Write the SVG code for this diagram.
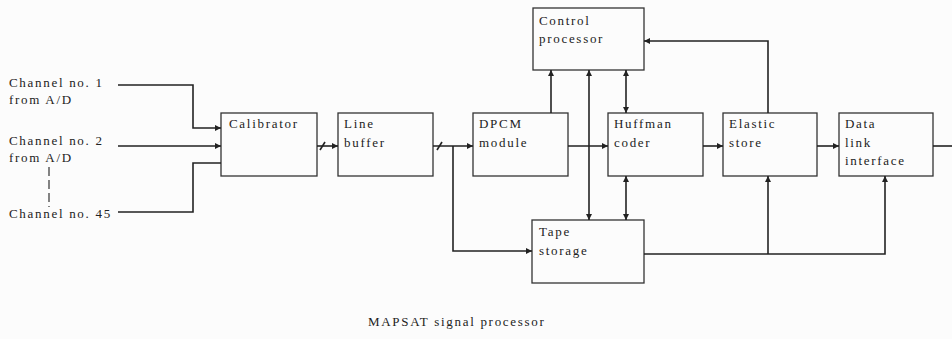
<svg xmlns="http://www.w3.org/2000/svg" width="952" height="339" viewBox="0 0 952 339">
<defs>
<marker id="ah" viewBox="0 0 10 10" refX="10" refY="5" markerWidth="7" markerHeight="6" markerUnits="userSpaceOnUse" orient="auto-start-reverse">
<path d="M0,0 L10,5 L0,10 z" fill="#222"/>
</marker>
<style>
.box{fill:none;stroke:#333;stroke-width:1.3}
.t{font-family:"Liberation Serif","DejaVu Serif",serif;font-size:13px;letter-spacing:1.7px;fill:#222}
.c{fill:none;stroke:#222;stroke-width:1.6}
.a{marker-end:url(#ah)}
.b{marker-start:url(#ah);marker-end:url(#ah)}
</style>
</defs>
<rect width="952" height="339" fill="#fcfcfc"/>
<g id="inputs">
<text class="t" x="9" y="87">Channel no. 1</text>
<text class="t" x="9" y="104">from A/D</text>
<text class="t" x="9" y="145">Channel no. 2</text>
<text class="t" x="9" y="162">from A/D</text>
<line x1="49" y1="167" x2="49" y2="207" stroke="#333" stroke-width="1.2" stroke-dasharray="9,4"/>
<text class="t" x="9" y="218">Channel no. 45</text>
</g>
<g id="calibrator"><rect class="box" x="221" y="113" width="96" height="63"/><text class="t" x="229" y="128">Calibrator</text></g>
<g id="line-buffer"><rect class="box" x="338" y="113" width="95" height="63"/><text class="t" x="344" y="128">Line</text><text class="t" x="344" y="147">buffer</text></g>
<g id="dpcm"><rect class="box" x="473" y="113" width="95" height="63"/><text class="t" x="479" y="128">DPCM</text><text class="t" x="479" y="147">module</text></g>
<g id="control"><rect class="box" x="533" y="8" width="111" height="62"/><text class="t" x="539" y="25">Control</text><text class="t" x="539" y="43">processor</text></g>
<g id="huffman"><rect class="box" x="608" y="113" width="95" height="63"/><text class="t" x="614" y="128">Huffman</text><text class="t" x="614" y="147">coder</text></g>
<g id="elastic"><rect class="box" x="723" y="113" width="94" height="63"/><text class="t" x="729" y="128">Elastic</text><text class="t" x="729" y="147">store</text></g>
<g id="datalink"><rect class="box" x="839" y="113" width="94" height="63"/><text class="t" x="845" y="128">Data</text><text class="t" x="845" y="147">link</text><text class="t" x="845" y="165">interface</text></g>
<g id="tape"><rect class="box" x="532" y="220" width="112" height="63"/><text class="t" x="539" y="236">Tape</text><text class="t" x="539" y="255">storage</text></g>
<g id="connectors">
<polyline class="c a" points="118,85 193,85 193,128 221,128"/>
<line class="c a" x1="118" y1="146" x2="221" y2="146"/>
<polyline class="c" points="118,212 193,212 193,163 221,163"/>
<line class="c a" x1="317" y1="146" x2="338" y2="146"/>
<line class="c" x1="320" y1="150" x2="325" y2="142"/>
<line class="c a" x1="433" y1="146" x2="473" y2="146"/>
<line class="c" x1="437" y1="150" x2="442" y2="142"/>
<polyline class="c a" points="453,146 453,251 532,251"/>
<line class="c a" x1="568" y1="146" x2="608" y2="146"/>
<line class="c a" x1="551" y1="113" x2="551" y2="70"/>
<line class="c b" x1="589" y1="70" x2="589" y2="220"/>
<line class="c b" x1="626" y1="70" x2="626" y2="113"/>
<line class="c b" x1="626" y1="176" x2="626" y2="220"/>
<line class="c a" x1="703" y1="146" x2="723" y2="146"/>
<line class="c a" x1="817" y1="146" x2="839" y2="146"/>
<line class="c" x1="933" y1="146" x2="952" y2="146"/>
<polyline class="c a" points="768,113 768,41 644,41"/>
<polyline class="c a" points="644,254 885,254 885,176"/>
<line class="c a" x1="768" y1="254" x2="768" y2="176"/>
</g>
<text class="t" x="368" y="326">MAPSAT signal processor</text>
</svg>
